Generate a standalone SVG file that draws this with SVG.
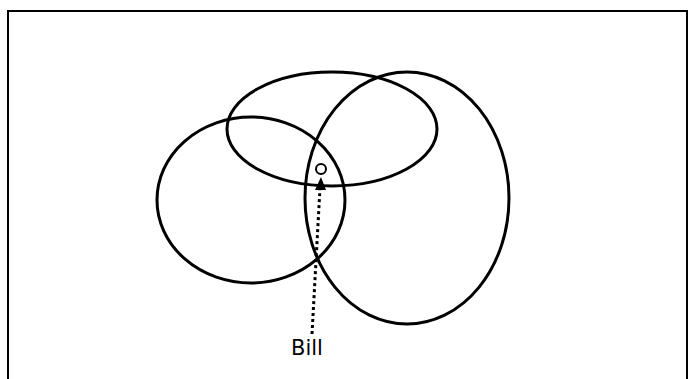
<svg xmlns="http://www.w3.org/2000/svg" width="696" height="379" viewBox="0 0 696 379">
<defs>
<style>
.set{fill:none;stroke:#000;stroke-width:3}
.lbl{font-family:"DejaVu Sans",sans-serif;font-size:21px;fill:#000}
</style>
<marker id="ah" viewBox="0 0 10 10" refX="10" refY="5" markerWidth="4" markerHeight="4" markerUnits="strokeWidth" orient="auto">
<path d="M0,0 L10,5 L0,10 z" fill="#000"/>
</marker>
</defs>
<rect width="696" height="379" fill="#fff"/>
<path d="M8,379 L8,11 L687,11 L687,379" fill="none" stroke="#000" stroke-width="2"/>
<g id="setA"><ellipse class="set" cx="251" cy="200" rx="94" ry="83"/></g>
<g id="setB"><ellipse class="set" cx="332" cy="129" rx="105" ry="57"/></g>
<g id="setC"><ellipse class="set" cx="407" cy="198" rx="102" ry="126"/></g>
<g id="point"><circle cx="321" cy="169" r="5" fill="#fff" stroke="#000" stroke-width="2"/></g>
<g id="connectors">
<line x1="312" y1="334" x2="320" y2="188" stroke="#000" stroke-width="3" stroke-dasharray="3,3"/>
<path d="M321,177 L326,190 L315,190 z" fill="#000"/>
</g>
<g id="bill"><text class="lbl" x="307" y="355" text-anchor="middle">Bill</text></g>
</svg>
